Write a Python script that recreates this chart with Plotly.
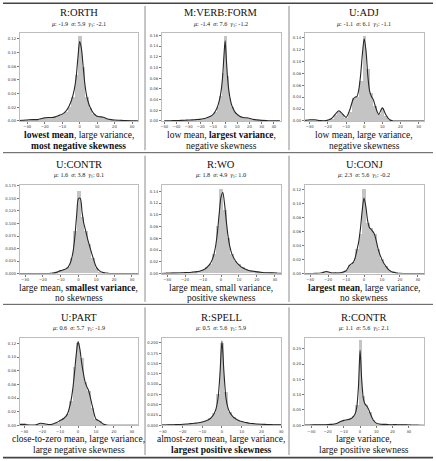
import plotly.graph_objects as go

W, H = 436, 461

# ---------------- data ----------------
TITLES = ["R:ORTH", "M:VERB:FORM", "U:ADJ", "U:CONTR", "R:WO", "U:CONJ", "U:PART", "R:SPELL", "R:CONTR"]
MEANS = ["-1.9", "-1.4", "-1.1", "1.6", "1.8", "2.3", "0.6", "0.5", "1.1"]
SIGMAS = ["5.9", "7.6", "6.1", "3.8", "4.9", "5.6", "5.7", "5.6", "5.6"]
SKEWS = ["-2.1", "-1.2", "-1.1", "0.1", "1.0", "-0.2", "-1.9", "5.9", "2.1"]
CAPTION_1 = ["<b>lowest mean</b>, large variance,", "low mean, <b>largest variance</b>,", "low mean, large variance,",
             "large mean, <b>smallest variance</b>,", "large mean, small variance,", "<b>largest mean</b>, large variance,",
             "close-to-zero mean, large variance,", "almost-zero mean, large variance,", "large variance,"]
CAPTION_2 = ["<b>most negative skewness</b>", "negative skewness", "negative skewness",
             "no skewness", "positive skewness", "no skewness",
             "large negative skewness", "<b>largest positive skewness</b>", "large positive skewness"]

# KDE evaluation grid (shared)
KDE_X = [-50, -45, -40, -36, -33, -30, -27, -24, -21, -18, -16, -14, -12, -10, -8, -6, -5, -4, -3, -2, -1,
         0, 1, 2, 3, 4, 5, 6, 8, 10, 12, 14, 16, 18, 20, 23, 26, 30, 35, 40, 45]
# Histogram bin centres (width 2, shared)
HIST_X = list(range(-34, 37, 2))

ORTH_KDE = [0, 0, 0, 0.0003, 0.001, 0.0015, 0.002, 0.002, 0.004, 0.005, 0.005, 0.006, 0.008, 0.010, 0.014, 0.022,
            0.028, 0.036, 0.047, 0.064, 0.092, 0.116, 0.106, 0.080, 0.054, 0.037, 0.027, 0.020, 0.011, 0.007, 0.006,
            0.005, 0.003, 0.002, 0.0015, 0.001, 0.0005, 0.0002, 0, 0, 0]
ORTH_HIST = [0, 0.001, 0.002, 0.002, 0.002, 0.002, 0.003, 0.006, 0.005, 0.005, 0.006, 0.008, 0.010, 0.013, 0.021,
             0.036, 0.068, 0.125, 0.080, 0.036, 0.019, 0.010, 0.007, 0.007, 0.004, 0.003, 0.002, 0.001, 0.001,
             0.0005, 0, 0, 0, 0, 0, 0]

VERB_KDE = [0.0003, 0.0005, 0.0008, 0.001, 0.0013, 0.0017, 0.002, 0.0025, 0.003, 0.004, 0.005, 0.007, 0.009, 0.012,
            0.018, 0.028, 0.036, 0.046, 0.061, 0.084, 0.120, 0.150, 0.116, 0.081, 0.058, 0.043, 0.033, 0.026, 0.017,
            0.012, 0.009, 0.007, 0.006, 0.006, 0.005, 0.003, 0.002, 0.001, 0.0005, 0.0002, 0.0001]
VERB_HIST = [0.001, 0.001, 0.002, 0.002, 0.002, 0.003, 0.003, 0.004, 0.004, 0.005, 0.007, 0.009, 0.012, 0.017,
             0.027, 0.047, 0.090, 0.160, 0.085, 0.044, 0.026, 0.017, 0.012, 0.009, 0.007, 0.006, 0.006, 0.005,
             0.003, 0.002, 0.002, 0.001, 0.001, 0.0005, 0.0005, 0]

ADJ_KDE = [0, 0, 0, 0, 0.001, 0.002, 0.002, 0.0005, 0.0005, 0.004, 0.011, 0.017, 0.012, 0.006, 0.018, 0.037,
           0.040, 0.041, 0.052, 0.076, 0.112, 0.138, 0.118, 0.076, 0.050, 0.041, 0.036, 0.026, 0.011, 0.022, 0.010,
           0.002, 0, 0, 0, 0, 0, 0, 0, 0, 0]
ADJ_HIST = [0, 0.001, 0.002, 0.002, 0.001, 0, 0, 0, 0.003, 0.010, 0.018, 0.012, 0.005, 0.015, 0.039, 0.040,
            0.068, 0.143, 0.088, 0.048, 0.026, 0.012, 0.023, 0.008, 0.001, 0, 0, 0, 0, 0, 0, 0, 0, 0, 0, 0]

CONTR_U_KDE = [0, 0, 0, 0, 0, 0, 0, 0, 0, 0, 0.0005, 0.001, 0.003, 0.006, 0.008, 0.012, 0.018, 0.028, 0.045,
               0.075, 0.118, 0.150, 0.150, 0.123, 0.100, 0.086, 0.071, 0.058, 0.034, 0.013, 0.005, 0.002, 0.001,
               0, 0, 0, 0, 0, 0, 0, 0]
CONTR_U_HIST = [0, 0, 0, 0, 0, 0, 0, 0, 0, 0, 0.001, 0.002, 0.006, 0.008, 0.012, 0.030, 0.085, 0.165, 0.112,
                0.085, 0.058, 0.030, 0.010, 0.003, 0.001, 0, 0, 0, 0, 0, 0, 0, 0, 0, 0, 0]

WO_KDE = [0, 0, 0, 0, 0.0002, 0.0005, 0.0008, 0.001, 0.0015, 0.002, 0.0025, 0.003, 0.004, 0.006, 0.010, 0.017,
          0.023, 0.032, 0.047, 0.070, 0.102, 0.130, 0.138, 0.118, 0.088, 0.062, 0.045, 0.034, 0.022, 0.015, 0.010,
          0.007, 0.005, 0.004, 0.003, 0.002, 0.0015, 0.001, 0.0002, 0, 0]
WO_HIST = [0, 0, 0.0005, 0.0005, 0.001, 0.001, 0.001, 0.002, 0.002, 0.002, 0.003, 0.004, 0.006, 0.010, 0.016,
           0.033, 0.080, 0.143, 0.108, 0.060, 0.033, 0.021, 0.015, 0.010, 0.007, 0.005, 0.004, 0.003, 0.002,
           0.002, 0.001, 0.001, 0.001, 0, 0, 0]

CONJ_KDE = [0, 0, 0, 0, 0, 0, 0.0003, 0.0008, 0.003, 0.001, 0.001, 0.001, 0.002, 0.004, 0.012, 0.016, 0.022,
            0.033, 0.045, 0.064, 0.090, 0.108, 0.096, 0.076, 0.066, 0.063, 0.060, 0.055, 0.034, 0.020, 0.011, 0.005,
            0.002, 0.001, 0.0005, 0, 0, 0, 0, 0, 0]
CONJ_HIST = [0, 0, 0, 0, 0, 0, 0.002, 0.002, 0.001, 0.001, 0.001, 0.002, 0.004, 0.012, 0.016, 0.034, 0.056,
             0.120, 0.072, 0.064, 0.056, 0.035, 0.020, 0.010, 0.004, 0.003, 0.001, 0, 0, 0, 0, 0, 0, 0, 0, 0]

PART_KDE = [0, 0, 0, 0.0005, 0.001, 0.001, 0.0005, 0.0003, 0.003, 0.002, 0.001, 0.002, 0.004, 0.007, 0.010,
            0.016, 0.024, 0.035, 0.052, 0.076, 0.104, 0.123, 0.112, 0.092, 0.076, 0.063, 0.056, 0.050, 0.028, 0.009,
            0.006, 0.002, 0.0005, 0, 0, 0, 0, 0, 0, 0, 0]
PART_HIST = [0, 0.004, 0.004, 0, 0, 0, 0.002, 0.003, 0.001, 0, 0.002, 0.004, 0.007, 0.010, 0.016, 0.036, 0.085,
             0.120, 0.098, 0.064, 0.050, 0.026, 0.009, 0.006, 0.002, 0, 0, 0, 0, 0, 0, 0, 0, 0, 0, 0]

SPELL_KDE = [0, 0, 0, 0.0003, 0.0005, 0.0008, 0.001, 0.0015, 0.002, 0.003, 0.004, 0.005, 0.006, 0.008, 0.011,
             0.016, 0.021, 0.028, 0.040, 0.065, 0.125, 0.205, 0.130, 0.068, 0.043, 0.031, 0.024, 0.019, 0.013,
             0.009, 0.007, 0.005, 0.004, 0.003, 0.0025, 0.002, 0.0015, 0.001, 0.0005, 0.0002, 0]
SPELL_HIST = [0, 0, 0.001, 0.001, 0.001, 0.002, 0.002, 0.002, 0.003, 0.004, 0.005, 0.006, 0.008, 0.011, 0.017,
              0.030, 0.075, 0.200, 0.080, 0.032, 0.019, 0.013, 0.009, 0.007, 0.005, 0.004, 0.003, 0.002, 0.002,
              0.002, 0.001, 0.001, 0.001, 0, 0, 0]

CONTR_R_KDE = [0, 0, 0, 0.0003, 0.0005, 0.001, 0.0015, 0.002, 0.002, 0.003, 0.004, 0.007, 0.012, 0.016, 0.018,
               0.021, 0.024, 0.029, 0.038, 0.060, 0.125, 0.245, 0.150, 0.088, 0.070, 0.064, 0.055, 0.042, 0.018,
               0.007, 0.004, 0.003, 0.003, 0.002, 0.002, 0.002, 0.0015, 0.001, 0.0005, 0, 0]
CONTR_R_HIST = [0, 0, 0.001, 0.001, 0.001, 0.002, 0.002, 0.002, 0.003, 0.004, 0.007, 0.012, 0.016, 0.018, 0.021,
                0.030, 0.065, 0.280, 0.095, 0.066, 0.043, 0.018, 0.007, 0.004, 0.003, 0.003, 0.002, 0.002, 0.002,
                0.002, 0.001, 0.001, 0.001, 0, 0, 0]

KDE_VALUES = [ORTH_KDE, VERB_KDE, ADJ_KDE, CONTR_U_KDE, WO_KDE, CONJ_KDE, PART_KDE, SPELL_KDE, CONTR_R_KDE]
HIST_VALUES = [ORTH_HIST, VERB_HIST, ADJ_HIST, CONTR_U_HIST, WO_HIST, CONJ_HIST, PART_HIST, SPELL_HIST, CONTR_R_HIST]

X_RANGES = [[-34.3, 33.5], [-52, 46], [-32.7, 33], [-33, 33.5], [-33, 33.5], [-33, 33.5], [-32.5, 33.5],
            [-30.5, 30], [-34, 39.4]]
Y_MAX = [0.129, 0.165, 0.148, 0.176, 0.15, 0.126, 0.128, 0.212, 0.285]
Y_DTICK = [0.02, 0.02, 0.02, 0.025, 0.02, 0.02, 0.02, 0.025, 0.05]
Y_FMT = [".2f", ".2f", ".2f", ".3f", ".2f", ".2f", ".2f", ".3f", ".2f"]

# ---------------- layout geometry (px) ----------------
COL_X = [(17, 137), (161, 282), (306, 427)]
ROW_Y = [(31, 120), (185, 274), (339, 427)]
TITLE_Y = [11, 164, 318]
STATS_Y = [22, 175, 329]
CAP1_Y = [134, 288, 441]
CAP2_Y = [145, 298.5, 451.5]

SERIF = "Liberation Serif"
BAR_COLOR = "#c4c4c4"
LINE_COLOR = "#262626"
FRAME = "#bdbdbd"


def px(x):
    return x / W


def py(y):
    return 1 - y / H


fig = go.Figure()
layout = {}
annotations = []

for i in range(9):
    r, c = divmod(i, 3)
    n = i + 1
    xa = "x" if n == 1 else f"x{n}"
    ya = "y" if n == 1 else f"y{n}"
    fig.add_trace(go.Bar(x=HIST_X, y=HIST_VALUES[i], width=2, marker=dict(color=BAR_COLOR, line=dict(width=0)),
                         xaxis=xa, yaxis=ya, showlegend=False, hoverinfo="skip"))
    fig.add_trace(go.Scatter(x=KDE_X, y=KDE_VALUES[i], mode="lines",
                             line=dict(color=LINE_COLOR, width=1.1, shape="spline", smoothing=0.8),
                             xaxis=xa, yaxis=ya, showlegend=False, hoverinfo="skip", cliponaxis=True))
    x0, x1 = COL_X[c]
    y0, y1 = ROW_Y[r]
    axis_common = dict(showgrid=False, zeroline=False, showline=True, mirror=True, linecolor=FRAME,
                       linewidth=0.8, ticks="outside", ticklen=2, tickwidth=0.5, tickcolor="#777",
                       tickfont=dict(family="DejaVu Sans", size=3.8, color="#333"))
    layout["xaxis" if n == 1 else f"xaxis{n}"] = dict(
        domain=[px(x0), px(x1)], anchor=ya, range=X_RANGES[i], dtick=10, tick0=0, **axis_common)
    layout["yaxis" if n == 1 else f"yaxis{n}"] = dict(
        domain=[py(y1), py(y0)], anchor=xa, range=[0, Y_MAX[i]], dtick=Y_DTICK[i], tick0=0,
        tickformat=Y_FMT[i], **axis_common)

    cx = px((x0 + x1) / 2)
    annotations.append(dict(text=TITLES[i], x=cx, y=py(TITLE_Y[r]), xref="paper", yref="paper",
                            showarrow=False, xanchor="center", yanchor="middle",
                            font=dict(family=SERIF, size=10.5, color="#111")))
    stats = (f"<i>μ</i>: {MEANS[i]}\u00a0\u00a0<i>σ</i>: {SIGMAS[i]}\u00a0\u00a0"
             f"<i>γ</i><sub>1</sub>: {SKEWS[i]}")
    annotations.append(dict(text=stats, x=cx, y=py(STATS_Y[r]), xref="paper", yref="paper",
                            showarrow=False, xanchor="center", yanchor="middle",
                            font=dict(family=SERIF, size=6.2, color="#222")))
    annotations.append(dict(text=CAPTION_1[i], x=cx, y=py(CAP1_Y[r]), xref="paper", yref="paper",
                            showarrow=False, xanchor="center", yanchor="middle",
                            font=dict(family=SERIF, size=9.5, color="#111")))
    annotations.append(dict(text=CAPTION_2[i], x=cx, y=py(CAP2_Y[r]), xref="paper", yref="paper",
                            showarrow=False, xanchor="center", yanchor="middle",
                            font=dict(family=SERIF, size=9.5, color="#111")))

shapes = []
for yy, w in [(1.2, 1.6), (152, 0.9), (305, 0.9), (459.6, 1.6)]:
    shapes.append(dict(type="line", xref="paper", yref="paper", x0=0, x1=1, y0=py(yy), y1=py(yy),
                       line=dict(color="#444", width=w)))
for xx in [144, 290]:
    for ya0, ya1 in [(4, 149.5), (155, 302.5), (308, 457)]:
        shapes.append(dict(type="line", xref="paper", yref="paper", x0=px(xx), x1=px(xx), y0=py(ya0), y1=py(ya1),
                           line=dict(color="#8c8c8c", width=1)))

fig.update_layout(width=W, height=H, margin=dict(l=0, r=0, t=0, b=0), paper_bgcolor="white",
                  plot_bgcolor="white", bargap=0, annotations=annotations, shapes=shapes, **layout)

fig.write_html("out.html", config={"displayModeBar": False})
